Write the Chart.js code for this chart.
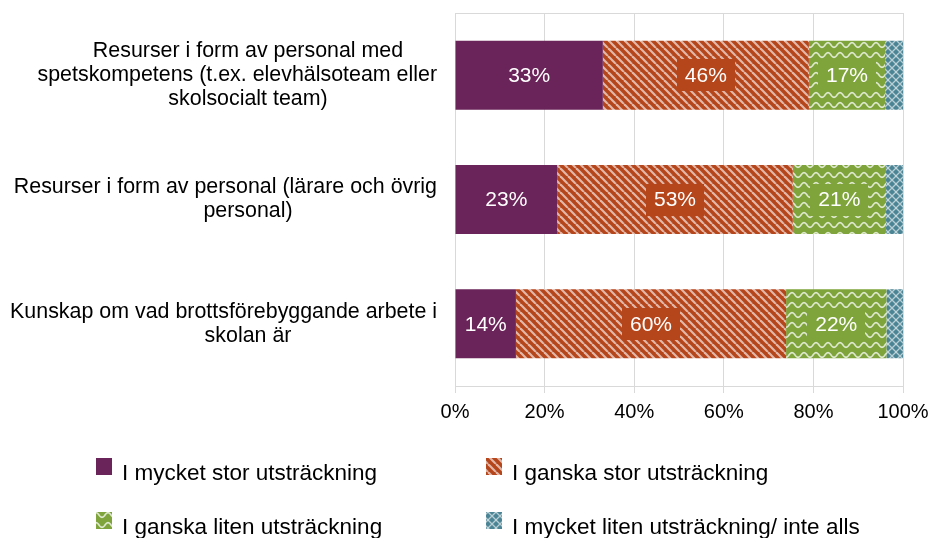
<!DOCTYPE html>
<html>
<head>
<meta charset="utf-8">
<script src="https://cdn.jsdelivr.net/npm/chart.js@4"></script>
<style>
    html, body { margin: 0; padding: 0; background: #fff; }
    #wrap { width: 932px; height: 538px; position: relative; }
</style>
</head>
<body>
<div id="wrap"><canvas id="chart"></canvas></div>
<script>
// category labels, already wrapped the way the source chart shows them
const categories = [
    ["Resurser i form av personal med", "spetskompetens (t.ex. elevhälsoteam eller", "skolsocialt team)"],
    ["Resurser i form av personal (lärare och övrig", "personal)"],
    ["Kunskap om vad brottsförebyggande arbete i", "skolan är"],
];
const seriesNames = [
    "I mycket stor utsträckning",
    "I ganska stor utsträckning",
    "I ganska liten utsträckning",
    "I mycket liten utsträckning/ inte alls",
];
const veryLarge = [33, 22.8, 13.6];
const fairlyLarge = [46, 52.6, 60.3];
const fairlySmall = [17, 20.8, 22.4];
const verySmall = [4, 3.8, 3.7];
const xTicks = [0, 20, 40, 60, 80, 100];

const FONT = "'Liberation Sans', Arial, sans-serif";
const GRID = "#d9d9d9";
const baseColors = ["#6B2459", "#B5451B", "#7EA43B", "#4B8494"];

const makePattern = (base, w, h, draw) => {
    const tile = document.createElement("canvas");
    tile.width = w;
    tile.height = h;
    const g = tile.getContext("2d");
    g.fillStyle = base;
    g.fillRect(0, 0, w, h);
    if (draw) draw(g, w, h);
    return document.createElement("canvas").getContext("2d").createPattern(tile, "repeat");
};

const fills = [
    baseColors[0],
    makePattern(baseColors[1], 8, 8, (g) => {
        g.strokeStyle = "rgba(255,255,255,0.62)";
        g.lineWidth = 2.2;
        [-8, 0, 8].forEach((o) => {
            g.beginPath();
            g.moveTo(o, 0);
            g.lineTo(o + 8, 8);
            g.stroke();
        });
    }),
    makePattern(baseColors[2], 12, 10, (g, w) => {
        g.strokeStyle = "rgba(255,255,255,0.75)";
        g.lineWidth = 1.6;
        g.beginPath();
        for (let x = -1; x <= w + 1; x += 0.5) {
            const y = 5 - 2.4 * Math.cos((2 * Math.PI * x) / w);
            if (x === -1) g.moveTo(x, y);
            else g.lineTo(x, y);
        }
        g.stroke();
    }),
    makePattern(baseColors[3], 8, 8, (g) => {
        g.strokeStyle = "rgba(255,255,255,0.6)";
        g.lineWidth = 1.3;
        [-8, 0, 8].forEach((o) => {
            g.beginPath();
            g.moveTo(o, 0);
            g.lineTo(o + 8, 8);
            g.moveTo(o + 8, 0);
            g.lineTo(o, 8);
            g.stroke();
        });
    }),
];

const frameLine = {
    id: "frameLine",
    beforeDatasetsDraw(chart) {
        const { ctx, chartArea } = chart;
        ctx.save();
        ctx.strokeStyle = GRID;
        ctx.lineWidth = 1;
        ctx.beginPath();
        ctx.moveTo(chartArea.left, chartArea.top + 0.5);
        ctx.lineTo(chartArea.right, chartArea.top + 0.5);
        ctx.stroke();
        ctx.restore();
    },
};

const valueLabels = {
    id: "valueLabels",
    afterDatasetsDraw(chart) {
        const { ctx } = chart;
        ctx.save();
        ctx.font = "21px " + FONT;
        ctx.textAlign = "center";
        ctx.textBaseline = "middle";
        for (let d = 0; d < 3; d++) {
            const meta = chart.getDatasetMeta(d);
            meta.data.forEach((bar, i) => {
                const { x, y, base } = bar.getProps(["x", "y", "base"], true);
                const cx = (x + base) / 2;
                const text = Math.round(chart.data.datasets[d].data[i]) + "%";
                const w = ctx.measureText(text).width + 16;
                ctx.fillStyle = baseColors[d];
                ctx.fillRect(Math.round(cx - w / 2), Math.round(y - 16), Math.round(w), 32);
                ctx.fillStyle = "#fff";
                ctx.fillText(text, cx, y + 1);
            });
        }
        ctx.restore();
    },
};

const categoryLabels = {
    id: "categoryLabels",
    afterDraw(chart) {
        const { ctx } = chart;
        const yScale = chart.scales.y;
        const center = 248;
        const rightEdge = yScale.right - 18;
        const lineHeight = 24;
        ctx.save();
        ctx.font = "21.4px " + FONT;
        ctx.fillStyle = "#000";
        ctx.textAlign = "left";
        ctx.textBaseline = "middle";
        categories.forEach((lines, i) => {
            const cy = yScale.getPixelForValue(i);
            const top = cy - ((lines.length - 1) * lineHeight) / 2;
            lines.forEach((line, j) => {
                const w = ctx.measureText(line).width;
                let left = center - w / 2;
                if (left + w > rightEdge) left = rightEdge - w;
                ctx.fillText(line, left, top + j * lineHeight);
            });
        });
        ctx.restore();
    },
};

const gridLegend = {
    id: "gridLegend",
    afterDraw(chart) {
        const { ctx } = chart;
        const cols = [96, 486];
        const rows = [458, 512];
        ctx.save();
        ctx.font = "22.5px " + FONT;
        ctx.textBaseline = "alphabetic";
        ctx.textAlign = "left";
        seriesNames.forEach((name, i) => {
            const bx = cols[i % 2];
            const by = rows[Math.floor(i / 2)];
            ctx.fillStyle = fills[i];
            ctx.fillRect(bx, by, 16, 17);
            ctx.fillStyle = "#000";
            ctx.fillText(name, bx + 26, by + 22);
        });
        ctx.restore();
    },
};

const seriesValues = [veryLarge, fairlyLarge, fairlySmall, verySmall];

new Chart(document.getElementById("chart"), {
    type: "bar",
    data: {
        labels: categories.map((c) => c.join(" ")),
        datasets: seriesValues.map((values, i) => ({
            label: seriesNames[i],
            data: values,
            backgroundColor: fills[i],
            borderWidth: 0,
            barPercentage: 0.555,
            categoryPercentage: 1,
        })),
    },
    options: {
        indexAxis: "y",
        responsive: true,
        maintainAspectRatio: false,
        animation: false,
        devicePixelRatio: 1,
        layout: { padding: { top: 13, right: 29, left: 0, bottom: 0 } },
        plugins: {
            legend: { display: false },
            tooltip: { enabled: false },
        },
        scales: {
            x: {
                stacked: true,
                min: 0,
                max: 100,
                afterBuildTicks: (scale) => {
                    scale.ticks = xTicks.map((v) => ({ value: v }));
                },
                afterFit: (scale) => {
                    scale.height = 152;
                    scale.paddingLeft = 0;
                    scale.paddingRight = 0;
                },
                ticks: {
                    color: "#000",
                    font: { family: FONT, size: 20 },
                    padding: 7,
                    maxRotation: 0,
                    callback: (v) => v + "%",
                },
                grid: { color: GRID, lineWidth: 1, tickLength: 7, tickColor: GRID },
                border: { display: true, color: GRID },
            },
            y: {
                stacked: true,
                afterFit: (scale) => {
                    scale.width = 455;
                },
                ticks: { display: false },
                grid: { display: false },
                border: { display: false },
            },
        },
    },
    plugins: [frameLine, valueLabels, categoryLabels, gridLegend],
});
</script>
</body>
</html>
